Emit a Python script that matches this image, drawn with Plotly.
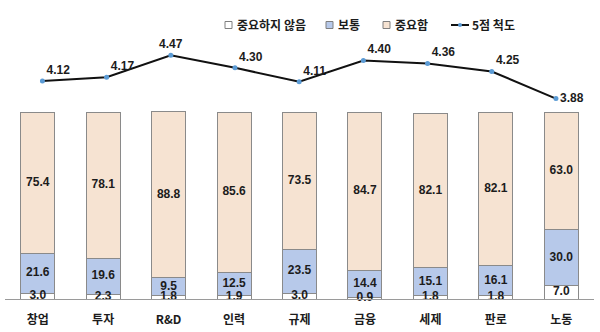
import plotly.graph_objects as go

# Survey categories and response shares (%)
categories = ["창업", "투자", "R&D", "인력", "규제", "금융", "세제", "판로", "노동"]
not_important = [3.0, 2.3, 1.8, 1.9, 3.0, 0.9, 1.8, 1.8, 7.0]
neutral = [21.6, 19.6, 9.5, 12.5, 23.5, 14.4, 15.1, 16.1, 30.0]
important = [75.4, 78.1, 88.8, 85.6, 73.5, 84.7, 82.1, 82.1, 63.0]
# Mean score on a 5-point scale
scale5 = [4.12, 4.17, 4.47, 4.30, 4.11, 4.40, 4.36, 4.25, 3.88]

NUM_FONT = "Liberation Sans, Arial, Noto Sans CJK KR"
KR_FONT = "Noto Sans CJK KR, Liberation Sans"
EDGE = "#8a8a8a"
TEXT = "#1c1c1c"

W, H = 600, 332
M = dict(l=5, r=6, t=40, b=33)
PW, PH = W - M["l"] - M["r"], H - M["t"] - M["b"]


def px(x):
    return (x - M["l"]) / PW


def py(y):
    return (H - M["b"] - y) / PH


fig = go.Figure()

series = [
    ("중요하지 않음", not_important, "#ffffff"),
    ("보통", neutral, "#b7c9ea"),
    ("중요함", important, "#f6e3d2"),
]
for name, vals, color in series:
    fig.add_trace(go.Bar(
        x=categories, y=vals, name=name,
        marker=dict(color=color, line=dict(color=EDGE, width=1)),
        width=0.52, hoverinfo="skip", showlegend=False,
    ))

# Segment value labels at the middle of each stacked piece
base = [0.0] * len(categories)
for name, vals, color in series:
    mids = [b + v / 2 for b, v in zip(base, vals)]
    fig.add_trace(go.Scatter(
        x=categories, y=mids, mode="text",
        text=[f"{v:.1f}" for v in vals],
        textfont=dict(family=NUM_FONT, size=12, color=TEXT, weight="bold"),
        showlegend=False, hoverinfo="skip", cliponaxis=False,
    ))
    base = [b + v for b, v in zip(base, vals)]

# 5-point scale line on its own axes
label_pos = ["top right", "top right", "top center", "top right", "top right",
             "top right", "top right", "top right", "middle right"]
fig.add_trace(go.Scatter(
    x=categories, y=scale5, name="5점 척도",
    mode="lines+markers+text",
    line=dict(color="#111111", width=2),
    marker=dict(color="#5b9bd5", size=5),
    text=[f"{v:.2f}" for v in scale5],
    textposition=label_pos,
    textfont=dict(family=NUM_FONT, size=12, color=TEXT, weight="bold"),
    xaxis="x2", yaxis="y2", cliponaxis=False, hoverinfo="skip",
    showlegend=False,
))

# Compact legend row above the plot
shapes = []
annotations = []
legend_y = 25
box_items = [(225, "중요하지 않음", "#ffffff"), (326, "보통", "#b7c9ea"), (383, "중요함", "#f6e3d2")]
for x0, name, color in box_items:
    shapes.append(dict(type="rect", xref="paper", yref="paper",
                       x0=px(x0), x1=px(x0 + 7), y0=py(legend_y + 3.5), y1=py(legend_y - 3.5),
                       fillcolor=color, line=dict(color="#7f7f7f", width=1)))
    annotations.append(dict(xref="paper", yref="paper", x=px(x0 + 10), y=py(legend_y),
                            xanchor="left", yanchor="middle", showarrow=False, text=name,
                            font=dict(family=KR_FONT, size=12, color=TEXT, weight="bold")))
shapes.append(dict(type="line", xref="paper", yref="paper",
                   x0=px(451), x1=px(469), y0=py(legend_y), y1=py(legend_y),
                   line=dict(color="#111111", width=2)))
shapes.append(dict(type="circle", xref="paper", yref="paper",
                   x0=px(458), x1=px(462), y0=py(legend_y + 2), y1=py(legend_y - 2),
                   fillcolor="#5b9bd5", line=dict(width=0)))
annotations.append(dict(xref="paper", yref="paper", x=px(470), y=py(legend_y),
                        xanchor="left", yanchor="middle", showarrow=False, text="5점 척도",
                        font=dict(family=KR_FONT, size=12, color=TEXT, weight="bold")))

fig.update_layout(
    width=W, height=H,
    margin=M,
    barmode="stack",
    paper_bgcolor="white", plot_bgcolor="white",
    font=dict(family=KR_FONT, size=12, color=TEXT),
    xaxis=dict(
        type="category", range=[-0.5, 8.5],
        showline=True, linecolor="#9a9a9a", linewidth=1,
        showgrid=False, ticks="", ticklabelstandoff=10,
        tickfont=dict(family=KR_FONT, size=12, color=TEXT, weight="bold"),
    ),
    yaxis=dict(range=[0, 138.5], visible=False, showgrid=False),
    xaxis2=dict(type="category", overlaying="x", range=[-0.583, 8.593],
                visible=False, showgrid=False),
    yaxis2=dict(overlaying="y", range=[1.141, 4.68], visible=False, showgrid=False),
    shapes=shapes,
    annotations=annotations,
    showlegend=False,
)

fig.write_html("out.html")
